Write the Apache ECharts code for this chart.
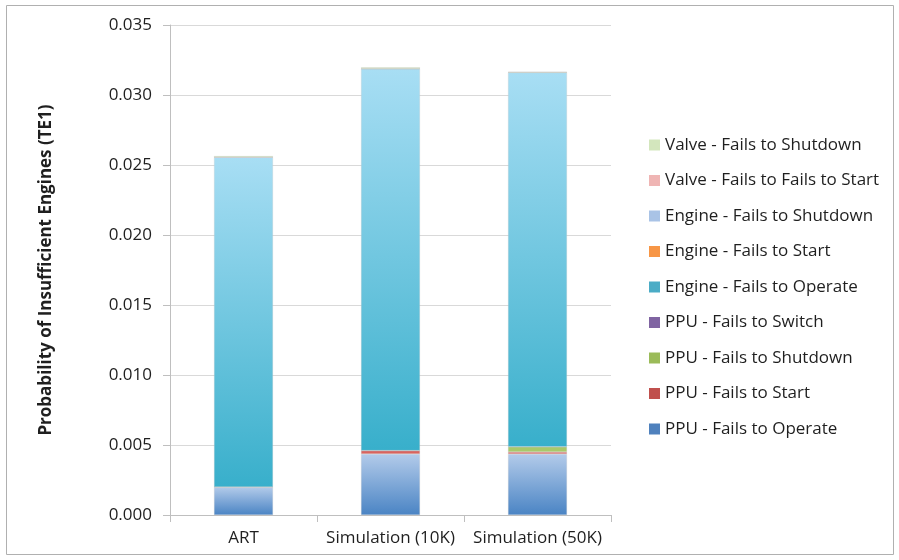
<!DOCTYPE html>
<html>
<head>
<meta charset="utf-8">
<script src="https://cdn.jsdelivr.net/npm/echarts@6/dist/echarts.min.js"></script>
<style>
  html, body { margin: 0; padding: 0; background: #fff; }
  #main { width: 899px; height: 560px; }
</style>
</head>
<body>
<div id="main"></div>
<script>
// categories and stacked series values
var categories = ['ART', 'Simulation (10K)', 'Simulation (50K)'];

var ppuOperate     = [0.00200, 0.00436, 0.00436];
var ppuStart       = [0, 0.00024, 0.00014];
var ppuShutdown    = [0, 0, 0.00037];
var ppuSwitch      = [0, 0, 0];
var engineOperate  = [0.02355, 0.02728, 0.02674];
var engineStart    = [0, 0, 0];
var engineShutdown = [0, 0, 0];
var valveStart     = [0, 0, 0];
var valveShutdown  = [0.00009, 0.00010, 0.00005];

var yTicks = { min: 0, max: 0.035, interval: 0.005 };

function grad(top, bottom) {
    return new echarts.graphic.LinearGradient(0, 0, 0, 1, [
        { offset: 0, color: top },
        { offset: 1, color: bottom }
    ]);
}

var seriesDefs = [
    { name: 'PPU - Fails to Operate', data: ppuOperate, legend: '#4f81bd', color: grad('#b3cbea', '#4a84c4') },
    { name: 'PPU - Fails to Start', data: ppuStart, legend: '#c0504d', color: '#d9645f' },
    { name: 'PPU - Fails to Shutdown', data: ppuShutdown, legend: '#9bbb59', color: '#a9c96a' },
    { name: 'PPU - Fails to Switch', data: ppuSwitch, legend: '#8064a2', color: '#8064a2' },
    { name: 'Engine - Fails to Operate', data: engineOperate, legend: '#4bacc6', color: grad('#a8def4', '#38afcb') },
    { name: 'Engine - Fails to Start', data: engineStart, legend: '#f79646', color: '#f79646' },
    { name: 'Engine - Fails to Shutdown', data: engineShutdown, legend: '#a9c3e6', color: '#a9c3e6' },
    { name: 'Valve - Fails to Fails to Start', data: valveStart, legend: '#efb5b4', color: '#efb5b4' },
    { name: 'Valve - Fails to Shutdown', data: valveShutdown, legend: '#d3e6bd', color: '#d3e6bd' }
];

var series = seriesDefs.map(function (s) {
    return {
        name: s.name,
        type: 'bar',
        stack: 'total',
        barWidth: 59,
        data: s.data,
        itemStyle: { color: s.color, borderColor: 'rgba(200,200,200,0.6)', borderWidth: 0.5 },
        emphasis: { disabled: true }
    };
});

var legendData = seriesDefs.slice().reverse().map(function (s) {
    return { name: s.name, itemStyle: { color: s.legend, borderWidth: 0 } };
});

var chart = echarts.init(document.getElementById('main'));
var option = {
    animation: false,
    textStyle: { fontFamily: 'Open Sans' },
    graphic: [{
        type: 'rect',
        shape: { x: 6.5, y: 5.5, width: 887, height: 549 },
        style: { fill: 'none', stroke: '#b0b0b0', lineWidth: 1 },
        silent: true
    }],
    grid: { left: 170, top: 25, right: 288, bottom: 45 },
    legend: {
        orient: 'vertical',
        left: 644,
        top: 128,
        itemWidth: 11,
        itemHeight: 11,
        itemGap: 11.5,
        icon: 'rect',
        data: legendData,
        textStyle: { fontSize: 17, lineHeight: 24, color: '#1f1f1f', fontFamily: 'Open Sans', padding: [0, 0, 0, 0] }
    },
    xAxis: {
        type: 'category',
        data: categories,
        axisLine: { lineStyle: { color: '#bfbfbf', width: 1 } },
        axisTick: { show: true, length: 7, alignWithLabel: false, lineStyle: { color: '#bfbfbf' } },
        axisLabel: { fontSize: 17, color: '#1f1f1f', margin: 15, interval: 0, hideOverlap: false }
    },
    yAxis: {
        type: 'value',
        min: yTicks.min,
        max: yTicks.max,
        interval: yTicks.interval,
        name: 'Probability of Insufficient Engines (TE1)',
        nameLocation: 'middle',
        nameGap: 115,
        nameTextStyle: { fontSize: 17, fontWeight: 'bold', color: '#1f1f1f' },
        axisLine: { show: true, lineStyle: { color: '#bfbfbf' } },
        axisTick: { show: true, length: 7, lineStyle: { color: '#bfbfbf' } },
        axisLabel: {
            fontSize: 17, color: '#1f1f1f', margin: 18,
            formatter: function (v) { return v.toFixed(3); }
        },
        splitLine: { lineStyle: { color: '#d9d9d9' } }
    },
    series: series
};
chart.setOption(option);
</script>
</body>
</html>
